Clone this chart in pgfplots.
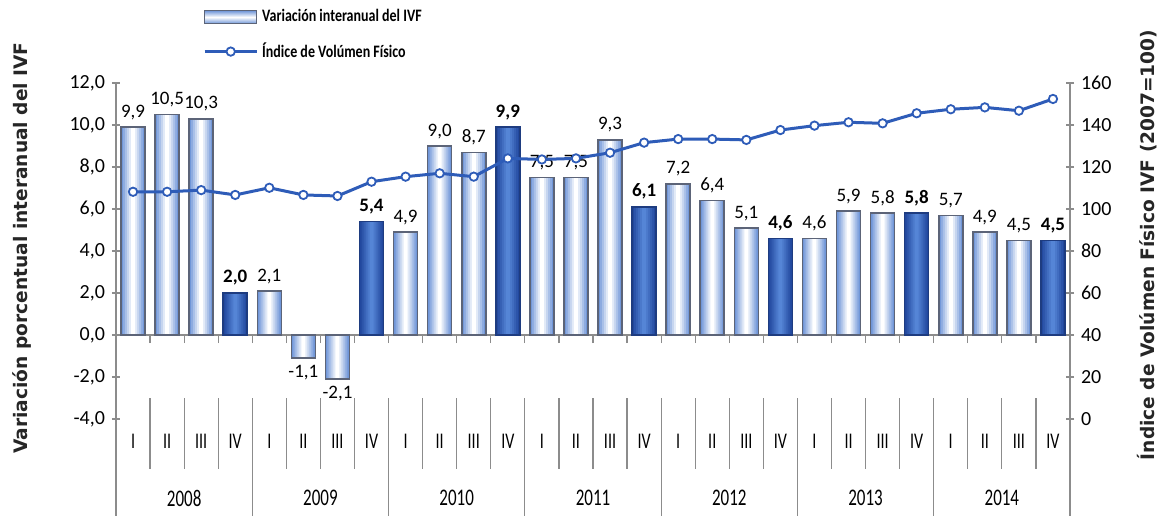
\documentclass[border=0pt]{standalone}
\usepackage{graphicx}
\usepackage{pgfplots}
\usepackage{pgfplotstable}
\pgfplotsset{compat=1.18}
\usepackage{fontspec}
\setmainfont{Carlito}
\newfontfamily\dejavu{DejaVu Sans}
\definecolor{lightedge}{HTML}{7096D8}
\definecolor{barline}{HTML}{5C6478}
\definecolor{darkedge}{HTML}{22489E}
\definecolor{darkmid}{HTML}{5585D6}
\definecolor{darkline}{HTML}{1E3C80}
\definecolor{ivf}{HTML}{2E5CB8}
\definecolor{axisgray}{HTML}{8C8C8C}

\pgfplotstableread{
x v
0 9.9
1 10.5
2 10.3
4 2.1
5 -1.1
6 -2.1
8 4.9
9 9.0
10 8.7
12 7.5
13 7.5
14 9.3
16 7.2
17 6.4
18 5.1
20 4.6
21 5.9
22 5.8
24 5.7
25 4.9
26 4.5
}\lightbars
\pgfplotstableread{
x v
3 2.0
7 5.4
11 9.9
15 6.1
19 4.6
23 5.8
27 4.5
}\darkbars
\pgfplotstableread{
x v
0 108.2
1 108.2
2 109.0
3 106.7
4 110.1
5 106.7
6 106.2
7 113.0
8 115.4
9 117.0
10 115.4
11 124.1
12 123.6
13 124.1
14 126.8
15 131.6
16 133.3
17 133.3
18 132.9
19 137.6
20 139.7
21 141.3
22 140.8
23 145.6
24 147.5
25 148.4
26 146.8
27 152.4
}\ivfdata

% gradient-like bars: layers of narrowing bars from edge colour to centre colour
\newcommand\barlayers[3]{%
  \addplot[ybar, bar shift=0pt, bar width=12pt, draw=none, fill=#2, forget plot] table[x=x, y=v]{#1};
  \addplot[ybar, bar shift=0pt, bar width=10pt, draw=none, fill=#2!80!#3, forget plot] table[x=x, y=v]{#1};
  \addplot[ybar, bar shift=0pt, bar width=8pt, draw=none, fill=#2!60!#3, forget plot] table[x=x, y=v]{#1};
  \addplot[ybar, bar shift=0pt, bar width=6pt, draw=none, fill=#2!40!#3, forget plot] table[x=x, y=v]{#1};
  \addplot[ybar, bar shift=0pt, bar width=4pt, draw=none, fill=#2!20!#3, forget plot] table[x=x, y=v]{#1};
  \addplot[ybar, bar shift=0pt, bar width=2pt, draw=none, fill=#3, forget plot] table[x=x, y=v]{#1};
}

\begin{document}
\begin{tikzpicture}
\pgfplotsset{
  every axis/.append style={scale only axis, width=477pt, height=168pt,
    xmin=-0.5, xmax=27.5, enlargelimits=false, clip=false,
    at={(0pt,0pt)}, anchor=south west,
    /pgf/number format/assume math mode=true,
    tick align=center, major tick length=4pt,
    tick style={draw=axisgray, line width=0.6pt},
    hide obscured x ticks=false, hide obscured y ticks=false},
}
\begin{axis}[
  name=ax,
  axis x line*=middle, axis y line*=left,
  x axis line style={-, draw=axisgray, line width=0.7pt},
  y axis line style={-, draw=axisgray, line width=0.7pt},
  ymin=-4, ymax=12, ytick={-4,-2,...,12},
  xtick={-0.5,0.5,...,27.5}, xticklabel={\mbox{}},
  yticklabel style={font=\fontsize{10}{12}\selectfont, /pgf/number format/fixed, /pgf/number format/fixed zerofill, /pgf/number format/precision=1, /pgf/number format/use comma},
  ybar, bar width=12pt,
  nodes near coords style={text=black, font=\fontsize{9.5}{11}\selectfont, /pgf/number format/fixed, /pgf/number format/fixed zerofill, /pgf/number format/precision=1, /pgf/number format/use comma},
]
\barlayers{\lightbars}{lightedge}{white}
\addplot[ybar, bar shift=0pt, draw=barline, line width=0.8pt, fill=none, nodes near coords]
  table[x=x, y=v]{\lightbars};
\barlayers{\darkbars}{darkedge}{darkmid}
\addplot[ybar, bar shift=0pt, draw=darkline, line width=0.8pt, fill=none, nodes near coords,
  nodes near coords style={font=\bfseries\fontsize{9.5}{11}\selectfont}]
  table[x=x, y=v]{\darkbars};

% category separators
\pgfplotsinvokeforeach{0,...,26}{
  \draw[axisgray, line width=0.6pt] (axis cs:#1+0.5,-3.0) -- (axis cs:#1+0.5,-6.4);
}
\pgfplotsinvokeforeach{0,...,7}{
  \draw[axisgray, line width=0.6pt] (axis cs:4*#1-0.5,-3.0) -- (axis cs:4*#1-0.5,-8.6);
}
\pgfplotsinvokeforeach{0,...,6}{
  \node[font=\fontsize{8}{9}\selectfont] at (axis cs:4*#1,-5.05) {\scalebox{1}[1.4]{I}};
  \node[font=\fontsize{8}{9}\selectfont] at (axis cs:4*#1+1,-5.05) {\scalebox{1}[1.4]{II}};
  \node[font=\fontsize{8}{9}\selectfont] at (axis cs:4*#1+2,-5.05) {\scalebox{1}[1.4]{III}};
  \node[font=\fontsize{8}{9}\selectfont] at (axis cs:4*#1+3,-5.05) {\scalebox{1}[1.4]{IV}};
  \node[font=\fontsize{8.5}{9}\selectfont] at (axis cs:4*#1+1.5,-7.76) {\scalebox{1}[1.4]{\the\numexpr2008+#1\relax}};
}
\node[rotate=90, font=\dejavu\bfseries\fontsize{9.3}{11}\selectfont, text=black!85] at (axis description cs:-0.0985,0.509) {Variación porcentual interanual del IVF};
\node[rotate=90, font=\dejavu\bfseries\fontsize{9.3}{11}\selectfont, text=black!85] at (axis description cs:1.0807,0.518) {Índice de Volúmen Físico IVF (2007=100)};
\end{axis}

\begin{axis}[
  axis x line=none, axis y line*=right,
  y axis line style={-, draw=axisgray, line width=0.7pt},
  ymin=0, ymax=160, ytick={0,20,...,160},
  yticklabel style={font=\fontsize{10}{12}\selectfont},
  legend style={at={(axis description cs:0.091,1.232)}, anchor=north west, draw=none, fill=none,
    font=\bfseries\fontsize{7}{8}\selectfont, row sep=5pt, inner sep=0pt, cells={anchor=west}},
]
\addlegendimage{legend image code/.code={\draw[draw=barline, line width=0.6pt, top color=lightedge, bottom color=lightedge, middle color=white] (0pt,-3.2pt) rectangle (26pt,3.2pt);}}
\addlegendentry{\scalebox{1}[1.25]{Variación interanual del IVF}}
\addplot[color=ivf, line width=1.5pt, mark=*, mark size=2.1pt, mark options={fill=white, draw=ivf, line width=0.9pt},
  legend image code/.code={\draw[ivf, line width=1.5pt] (0pt,0pt) -- (26pt,0pt); \draw[ivf, fill=white, line width=0.9pt] (13pt,0pt) circle[radius=2.1pt];}]
  table[x=x, y=v]{\ivfdata};
\addlegendentry{\scalebox{1}[1.25]{Índice de Volúmen Físico}}
\end{axis}
\pgfresetboundingbox
\path[use as bounding box] ([shift={(-58pt,-48pt)}]ax.south west) rectangle ([shift={(521.5pt,209.5pt)}]ax.south west);
\end{tikzpicture}
\end{document}
